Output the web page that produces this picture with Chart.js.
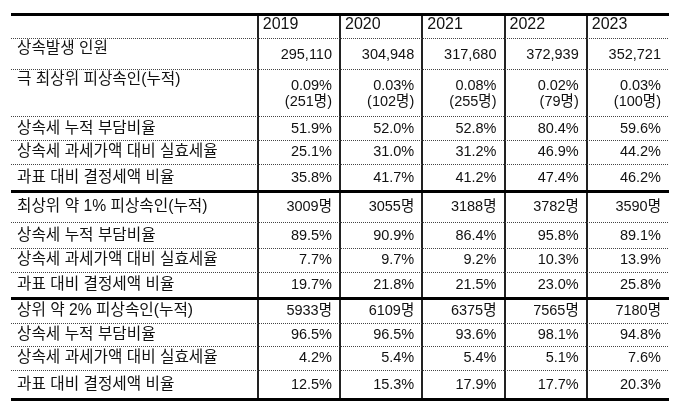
<!DOCTYPE html>
<html>
<head>
<meta charset="utf-8">
<script src="https://cdn.jsdelivr.net/npm/chart.js@4"></script>
<style>
html, body { margin: 0; padding: 0; background: #fff; }
#wrap { width: 679px; height: 405px; }
</style>
</head>
<body>
<div id="wrap"><canvas id="table"></canvas></div>
<script>
// 표 데이터
var years = ['2019', '2020', '2021', '2022', '2023'];
var rowLabels = [
    '상속발생 인원',
    '극 최상위 피상속인(누적)',
    '상속세 누적 부담비율',
    '상속세 과세가액 대비 실효세율',
    '과표 대비 결정세액 비율',
    '최상위 약 1% 피상속인(누적)',
    '상속세 누적 부담비율',
    '상속세 과세가액 대비 실효세율',
    '과표 대비 결정세액 비율',
    '상위 약 2% 피상속인(누적)',
    '상속세 누적 부담비율',
    '상속세 과세가액 대비 실효세율',
    '과표 대비 결정세액 비율'
];
var inheritCount = [295110, 304948, 317680, 372939, 352721];
var topRate = [0.09, 0.03, 0.08, 0.02, 0.03];
var topPeople = [251, 102, 255, 79, 100];
var topBurden = [51.9, 52.0, 52.8, 80.4, 59.6];
var topEffective = [25.1, 31.0, 31.2, 46.9, 44.2];
var topDecided = [35.8, 41.7, 41.2, 47.4, 46.2];
var p1People = [3009, 3055, 3188, 3782, 3590];
var p1Burden = [89.5, 90.9, 86.4, 95.8, 89.1];
var p1Effective = [7.7, 9.7, 9.2, 10.3, 13.9];
var p1Decided = [19.7, 21.8, 21.5, 23.0, 25.8];
var p2People = [5933, 6109, 6375, 7565, 7180];
var p2Burden = [96.5, 96.5, 93.6, 98.1, 94.8];
var p2Effective = [4.2, 5.4, 5.4, 5.1, 7.6];
var p2Decided = [12.5, 15.3, 17.9, 17.7, 20.3];

function pct(v) { return v.toFixed(1) + '%'; }
function ppl(v) { return v + '명'; }

// 셀 문자열 (행마다 배열, 두 줄 셀은 배열의 배열)
var cellText = [
    inheritCount.map(function(v) { return v.toLocaleString('en-US'); }),
    topRate.map(function(v, i) { return [v.toFixed(2) + '%', '(' + topPeople[i] + '명)']; }),
    topBurden.map(pct),
    topEffective.map(pct),
    topDecided.map(pct),
    p1People.map(ppl),
    p1Burden.map(pct),
    p1Effective.map(pct),
    p1Decided.map(pct),
    p2People.map(ppl),
    p2Burden.map(pct),
    p2Effective.map(pct),
    p2Decided.map(pct)
];

// 레이아웃: 행 높이 비율 (헤더 포함), 굵은 선 위치
var rowHeights = [24, 31, 48, 23, 24, 27, 32, 25, 24, 26, 25, 23, 24, 29];
var thickEdges = [0, 6, 10, 14];
var rowEdges = [0];
rowHeights.forEach(function(h) { rowEdges.push(rowEdges[rowEdges.length - 1] + h); });
var colEdges = [-3, 0, 1, 2, 3, 4, 5];

var FAMILY = '"Liberation Sans", Arial, "Noto Sans CJK KR", sans-serif';

var tablePlugin = {
    id: 'tableText',
    afterDraw: function(chart) {
        var ctx = chart.ctx;
        var xs = chart.scales.x, ys = chart.scales.y;
        ctx.save();
        ctx.fillStyle = '#111';
        ctx.textBaseline = 'middle';

        // 헤더 (연도)
        ctx.font = '16px ' + FAMILY;
        var hy = (ys.getPixelForValue(rowEdges[0]) + ys.getPixelForValue(rowEdges[1])) / 2 - 1;
        ctx.textAlign = 'left';
        years.forEach(function(y, i) {
            ctx.fillText(y, xs.getPixelForValue(i) + 5, hy);
        });

        for (var r = 0; r < rowLabels.length; r++) {
            var top = ys.getPixelForValue(rowEdges[r + 1]);
            var bot = ys.getPixelForValue(rowEdges[r + 2]);
            var mid = (top + bot) / 2;
            var labelY = (r < 2) ? top + 11 : mid;
            ctx.font = '15.7px ' + FAMILY;
            ctx.textAlign = 'left';
            ctx.fillText(rowLabels[r], xs.getPixelForValue(-3) + 6, labelY);

            ctx.font = '14.5px ' + FAMILY;
            ctx.textAlign = 'right';
            for (var c = 0; c < years.length; c++) {
                var tx = xs.getPixelForValue(c + 1) - 8;
                var t = cellText[r][c];
                if (Array.isArray(t)) {
                    ctx.fillText(t[0], tx, mid - 7);
                    ctx.fillText(t[1], tx, mid + 9);
                } else {
                    ctx.fillText(t, tx, r === 0 ? mid + 1.5 : mid);
                }
            }
        }
        ctx.restore();
    }
};

var chart = new Chart(document.getElementById('table').getContext('2d'), {
    type: 'scatter',
    data: { datasets: [] },
    plugins: [tablePlugin],
    options: {
        responsive: true,
        maintainAspectRatio: false,
        animation: false,
        layout: { padding: { left: 11, right: 10, top: 14, bottom: 6 } },
        plugins: { legend: { display: false }, tooltip: { enabled: false } },
        scales: {
            x: {
                type: 'linear',
                min: colEdges[0],
                max: colEdges[colEdges.length - 1],
                afterBuildTicks: function(scale) {
                    scale.ticks = colEdges.map(function(v) { return { value: v }; });
                },
                ticks: { display: false },
                border: { display: false },
                grid: {
                    drawTicks: false,
                    color: '#222',
                    lineWidth: function(c) {
                        return (c.index === 0 || c.index === colEdges.length - 1) ? 0 : 2;
                    }
                }
            },
            y: {
                type: 'linear',
                reverse: true,
                min: 0,
                max: rowEdges[rowEdges.length - 1],
                afterBuildTicks: function(scale) {
                    scale.ticks = rowEdges.map(function(v) { return { value: v }; });
                },
                ticks: { display: false },
                border: {
                    display: false,
                    dash: function(c) {
                        return thickEdges.indexOf(c.index) >= 0 ? [] : [1, 1];
                    }
                },
                grid: {
                    drawTicks: false,
                    color: function(c) {
                        return thickEdges.indexOf(c.index) >= 0 ? '#000' : '#444';
                    },
                    lineWidth: function(c) {
                        return thickEdges.indexOf(c.index) >= 0 ? 3 : 1;
                    }
                }
            }
        }
    }
});
</script>
</body>
</html>
